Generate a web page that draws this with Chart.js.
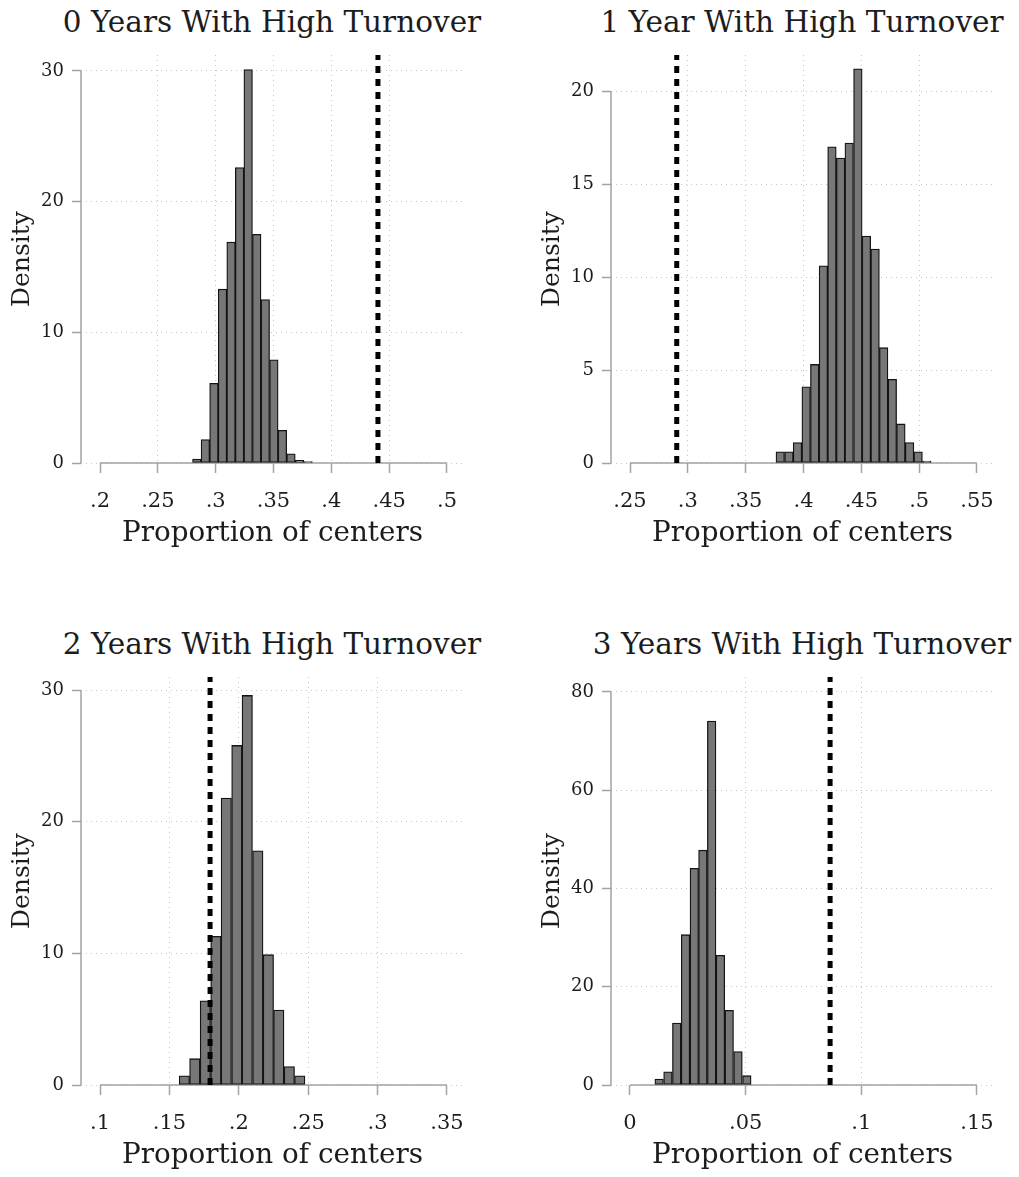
<!DOCTYPE html>
<html>
<head>
<meta charset="utf-8">
<title>High turnover histograms</title>
<script src="https://cdn.jsdelivr.net/npm/chart.js@4.4.1/dist/chart.umd.min.js"></script>
<style>
    body { margin: 0; background: #fff; width: 1019px; height: 1177px; overflow: hidden; position: relative; }
    canvas { position: absolute; }
    .panel-title {
        position: absolute; width: 500px; text-align: center; white-space: nowrap;
        font-family: 'DejaVu Serif', serif; font-size: 29.5px; line-height: 34px; color: #1c1c1c;
    }
</style>
</head>
<body>
<div class="panel-title" id="title0" style="left:22px;top:5px"></div>
<div class="panel-title" id="title1" style="left:552px;top:5px"></div>
<div class="panel-title" id="title2" style="left:22px;top:627px"></div>
<div class="panel-title" id="title3" style="left:552px;top:627px"></div>
<canvas id="panel0" width="489" height="555" style="left:0px;top:0px"></canvas>
<canvas id="panel1" width="489" height="555" style="left:530px;top:0px"></canvas>
<canvas id="panel2" width="489" height="555" style="left:0px;top:622px"></canvas>
<canvas id="panel3" width="489" height="555" style="left:530px;top:622px"></canvas>
<script>
const FONT = 'DejaVu Serif';

const titles = [
    '0 Years With High Turnover',
    '1 Year With High Turnover',
    '2 Years With High Turnover',
    '3 Years With High Turnover'
];

// bin midpoints and densities
const bins0 = [0.2837, 0.2911, 0.2985, 0.3059, 0.3133, 0.3207, 0.3281, 0.3355, 0.3429, 0.3503, 0.3577, 0.3651, 0.3725, 0.3799];
const dens0 = [0.3, 1.8, 6.1, 13.3, 16.9, 22.6, 30.1, 17.5, 12.5, 7.9, 2.5, 0.7, 0.2, 0.1];

const bins1 = [0.3799, 0.3874, 0.3948, 0.4023, 0.4097, 0.4172, 0.4246, 0.4321, 0.4395, 0.4470, 0.4544, 0.4619, 0.4693, 0.4768, 0.4842, 0.4917, 0.4991, 0.5066];
const dens1 = [0.6, 0.6, 1.1, 4.1, 5.3, 10.6, 17.0, 16.4, 17.2, 21.2, 12.2, 11.5, 6.2, 4.5, 2.1, 1.1, 0.6, 0.1];

const bins2 = [0.1608, 0.1683, 0.1759, 0.1835, 0.1910, 0.1986, 0.2061, 0.2137, 0.2213, 0.2288, 0.2364, 0.2439];
const dens2 = [0.7, 2.0, 6.4, 11.3, 21.8, 25.8, 29.6, 17.8, 9.9, 5.7, 1.4, 0.7];

const bins3 = [0.0126, 0.0164, 0.0202, 0.0240, 0.0278, 0.0315, 0.0353, 0.0391, 0.0429, 0.0467, 0.0505];
const dens3 = [1.2, 2.7, 12.6, 30.6, 44.1, 47.8, 74.1, 26.4, 15.2, 6.8, 1.9];

// observed proportion (dotted line) per panel
const observed = [0.4403, 0.2904, 0.1793, 0.0865];

// tick labels
const xTicks0 = [0.2, 0.25, 0.3, 0.35, 0.4, 0.45, 0.5];
const xTicks1 = [0.25, 0.3, 0.35, 0.4, 0.45, 0.5, 0.55];
const xTicks2 = [0.1, 0.15, 0.2, 0.25, 0.3, 0.35];
const xTicks3 = [0, 0.05, 0.1, 0.15];
const yTicks0 = [0, 10, 20, 30];
const yTicks1 = [0, 5, 10, 15, 20];
const yTicks2 = [0, 10, 20, 30];
const yTicks3 = [0, 20, 40, 60, 80];

// plot region extents (Stata pads the region a bit past the axis ticks)
const xRange0 = [0.18357, 0.51470];
const xRange1 = [0.23357, 0.56470];
const xRange2 = [0.08631, 0.36225];
const xRange3 = [-0.00821, 0.15735];
const yTop = [31.22, 21.94, 31.0, 83.05];

const AXIS_GRAY = '#a3a3a3';
const GRID_GRAY = '#c6c6c6';
const TEXT = '#1c1c1c';

function fmt(v) {
    if (v === 0) return '0';
    return String(v).replace(/^0\./, '.');
}

// Stata draws its axis lines only between the first and last tick
const axisLines = {
    id: 'axisLines',
    beforeDatasetsDraw(chart) {
        const { ctx, chartArea, scales: { x, y } } = chart;
        const xt = x.ticks, yt = y.ticks;
        ctx.save();
        ctx.strokeStyle = AXIS_GRAY;
        ctx.lineWidth = 1.5;
        ctx.beginPath();
        ctx.moveTo(x.getPixelForValue(xt[0].value), chartArea.bottom);
        ctx.lineTo(x.getPixelForValue(xt[xt.length - 1].value), chartArea.bottom);
        ctx.moveTo(chartArea.left, y.getPixelForValue(yt[0].value));
        ctx.lineTo(chartArea.left, y.getPixelForValue(yt[yt.length - 1].value));
        ctx.stroke();
        ctx.restore();
    }
};

function drawPanel(n, bins, dens, obs, xTicks, yTicks, xRange, top) {
    // the title sits over the plot region, wider than Chart.js would allow it
    document.getElementById('title' + n).textContent = titles[n];

    const canvas = document.getElementById('panel' + n);
    new Chart(canvas, {
        type: 'bar',
        data: {
            datasets: [
                {
                    type: 'line',
                    data: [{ x: obs, y: 0 }, { x: obs, y: top }],
                    borderColor: '#000',
                    borderWidth: 5,
                    borderDash: [7, 6],
                    borderCapStyle: 'butt',
                    pointRadius: 0,
                    order: 0
                },
                {
                    type: 'bar',
                    data: bins.map((b, i) => ({ x: b, y: dens[i] })),
                    backgroundColor: '#777777',
                    borderColor: '#141414',
                    borderWidth: 1.3,
                    borderSkipped: false,
                    barPercentage: 1,
                    categoryPercentage: 1,
                    order: 1
                }
            ]
        },
        options: {
            responsive: false,
            animation: false,
            devicePixelRatio: 1,
            layout: { padding: { left: 0, right: 25, top: 55, bottom: 0 } },
            plugins: {
                legend: { display: false },
                tooltip: { enabled: false },
                title: { display: false }
            },
            scales: {
                x: {
                    type: 'linear',
                    min: xRange[0],
                    max: xRange[1],
                    offset: false,
                    afterBuildTicks: s => { s.ticks = xTicks.map(v => ({ value: v })); },
                    afterFit: s => { s.height = 92; },
                    grid: {
                        offset: false,
                        color: c => (c.index === 0 || c.index === xTicks.length - 1) ? 'rgba(0,0,0,0)' : GRID_GRAY,
                        lineWidth: 1,
                        tickLength: 10,
                        tickColor: AXIS_GRAY,
                        tickWidth: 1.5
                    },
                    border: { display: false, dash: [1, 4] },
                    ticks: {
                        autoSkip: false,
                        maxRotation: 0,
                        padding: 16,
                        color: TEXT,
                        font: { family: FONT, size: 21 },
                        callback: v => fmt(v)
                    },
                    title: {
                        display: true,
                        text: 'Proportion of centers',
                        color: TEXT,
                        font: { family: FONT, size: 27.8 },
                        padding: { top: 0, bottom: 4.3 }
                    }
                },
                y: {
                    min: 0,
                    max: top,
                    afterBuildTicks: s => { s.ticks = yTicks.map(v => ({ value: v })); },
                    afterFit: s => { s.width = 81; },
                    grid: {
                        color: GRID_GRAY,
                        lineWidth: 1,
                        tickLength: 9,
                        tickColor: AXIS_GRAY,
                        tickWidth: 1.5
                    },
                    border: { display: false, dash: [1, 4] },
                    ticks: {
                        padding: 8,
                        color: TEXT,
                        font: { family: FONT, size: 18 }
                    },
                    title: {
                        display: true,
                        text: 'Density',
                        color: TEXT,
                        font: { family: FONT, size: 25 },
                        padding: { top: 7, bottom: 0 }
                    }
                }
            }
        },
        plugins: [axisLines]
    });
}

drawPanel(0, bins0, dens0, observed[0], xTicks0, yTicks0, xRange0, yTop[0]);
drawPanel(1, bins1, dens1, observed[1], xTicks1, yTicks1, xRange1, yTop[1]);
drawPanel(2, bins2, dens2, observed[2], xTicks2, yTicks2, xRange2, yTop[2]);
drawPanel(3, bins3, dens3, observed[3], xTicks3, yTicks3, xRange3, yTop[3]);
</script>
</body>
</html>
